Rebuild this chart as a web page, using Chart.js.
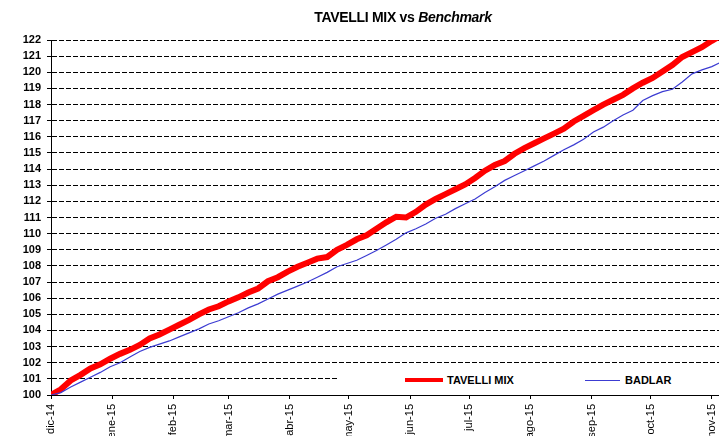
<!DOCTYPE html>
<html>
<head>
<meta charset="utf-8">
<script src="https://cdn.jsdelivr.net/npm/chart.js@4"></script>
<style>
    html, body { margin: 0; padding: 0; background: #fff; overflow: hidden; }
    #wrap { position: relative; width: 730px; height: 436px; }
    #title {
        position: absolute; left: 303px; width: 200px; top: 9px; text-align: center;
        font-family: Arial, "Liberation Sans", sans-serif; font-weight: bold; font-size: 14px;
        letter-spacing: -0.3px; color: #000; white-space: nowrap;
    }
    #legend {
        position: absolute; left: 338px; top: 368px; width: 400px; height: 25px; background: #fff;
        font-family: Arial, "Liberation Sans", sans-serif; font-weight: bold; font-size: 11px; color: #000;
    }
    .lg-line { position: absolute; }
    .lg-text { position: absolute; top: 6px; }
</style>
</head>
<body>
<div id="wrap">
    <canvas id="chart" width="730" height="436"></canvas>
    <div id="title">TAVELLI MIX vs <i>Benchmark</i></div>
    <div id="legend">
        <span class="lg-line" style="left:67px; top:10px; width:38px; height:4px; background:#ff0000;"></span>
        <span class="lg-text" style="left:109px;">TAVELLI MIX</span>
        <span class="lg-line" style="left:247px; top:12px; width:35px; height:1px; background:#3c3cd2;"></span>
        <span class="lg-text" style="left:287px;">BADLAR</span>
    </div>
</div>
<script>
// days since 1 dic 2014
const DAYS = [
    0, 5, 10, 15, 20, 25, 30, 35, 40, 45, 50, 55, 60, 65, 70, 75, 80, 85, 90, 95,
    100, 105, 110, 115, 120, 125, 130, 135, 140, 145, 150, 155, 160, 165, 170, 175, 180, 185, 190, 195,
    200, 205, 210, 215, 220, 225, 230, 235, 240, 245, 250, 255, 260, 265, 270, 275, 280, 285, 290, 295,
    300, 305, 310, 315, 320, 325, 330, 335, 340
];

const TAVELLI_MIX = [
    100.0, 100.35, 100.9, 101.25, 101.65, 101.9, 102.25, 102.55, 102.8, 103.1,
    103.5, 103.75, 104.05, 104.35, 104.65, 105.0, 105.3, 105.5, 105.8, 106.05,
    106.35, 106.6, 107.05, 107.3, 107.65, 107.95, 108.2, 108.45, 108.55, 109.0,
    109.3, 109.65, 109.9, 110.3, 110.7, 111.05, 111.0, 111.35, 111.8, 112.15,
    112.45, 112.75, 113.05, 113.45, 113.9, 114.25, 114.5, 114.95, 115.3, 115.6,
    115.9, 116.2, 116.5, 116.95, 117.3, 117.65, 118.0, 118.3, 118.6, 119.0,
    119.35, 119.65, 120.05, 120.45, 120.95, 121.25, 121.55, 121.95, 122.3
];

const BADLAR = [
    100.0, 100.15, 100.5, 100.8, 101.1, 101.4, 101.75, 102.0, 102.35, 102.7,
    102.95, 103.15, 103.35, 103.6, 103.85, 104.1, 104.4, 104.6, 104.85, 105.1,
    105.4, 105.65, 105.95, 106.25, 106.5, 106.75, 107.0, 107.3, 107.6, 107.95,
    108.15, 108.35, 108.65, 108.95, 109.3, 109.65, 110.05, 110.3, 110.6, 110.95,
    111.2, 111.55, 111.85, 112.15, 112.55, 112.9, 113.3, 113.6, 113.9, 114.2,
    114.5, 114.85, 115.2, 115.5, 115.85, 116.3, 116.6, 117.0, 117.35, 117.65,
    118.25, 118.55, 118.8, 118.95, 119.4, 119.9, 120.15, 120.35, 120.65
];

// month ticks
const MONTH_DAYS = [0, 31, 62, 90, 121, 151, 182, 212, 243, 274, 304, 335];
const MONTH_LABELS = ['dic-14', 'ene-15', 'feb-15', 'mar-15', 'abr-15', 'may-15',
    'jun-15', 'jul-15', 'ago-15', 'sep-15', 'oct-15', 'nov-15'];

const toPoints = vals => vals.map((v, i) => ({ x: DAYS[i], y: v }));

const FONT = 'Arial, "Liberation Sans", sans-serif';

new Chart(document.getElementById('chart').getContext('2d'), {
    type: 'line',
    data: {
        datasets: [
            {
                label: 'BADLAR',
                data: toPoints(BADLAR),
                borderColor: '#3c3cd2',
                borderWidth: 1.2,
                pointRadius: 0,
                tension: 0
            },
            {
                label: 'TAVELLI MIX',
                data: toPoints(TAVELLI_MIX),
                borderColor: '#ff0000',
                borderWidth: 6,
                pointRadius: 0,
                tension: 0
            }
        ]
    },
    options: {
        responsive: false,
        animation: false,
        layout: { padding: { top: 40, left: 0, right: 0, bottom: 0 } },
        plugins: {
            legend: { display: false },
            tooltip: { enabled: false }
        },
        scales: {
            x: {
                type: 'linear',
                min: 0,
                max: 339,
                afterBuildTicks: scale => {
                    scale.ticks = MONTH_DAYS.map(v => ({ value: v }));
                },
                afterFit: scale => { scale.height = 41; },
                grid: { drawOnChartArea: false, drawTicks: true, tickLength: 4, color: '#000' },
                border: { display: true, color: '#000', width: 1 },
                ticks: {
                    autoSkip: false,
                    minRotation: 90,
                    maxRotation: 90,
                    padding: 5,
                    color: '#000',
                    font: { family: FONT, size: 11 },
                    callback: value => MONTH_LABELS[MONTH_DAYS.indexOf(value)] || ''
                }
            },
            y: {
                min: 100,
                max: 122,
                afterFit: scale => { scale.width = 51; },
                grid: { color: '#000', lineWidth: 1, tickLength: 4, tickColor: '#000' },
                border: { display: true, color: '#000', width: 1, dash: [5, 2] },
                ticks: {
                    stepSize: 1,
                    autoSkip: false,
                    padding: 6,
                    color: '#000',
                    font: { family: FONT, size: 11, weight: 'bold' }
                }
            }
        }
    }
});
</script>
</body>
</html>
